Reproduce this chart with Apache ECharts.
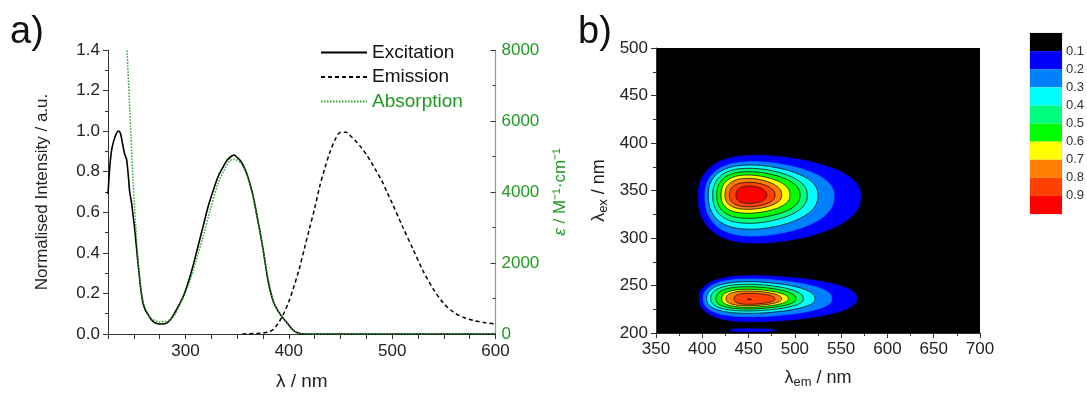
<!DOCTYPE html>
<html><head><meta charset="utf-8">
<script src="https://cdn.jsdelivr.net/npm/echarts@6/dist/echarts.min.js"></script>
<style>html,body{margin:0;padding:0;background:#fff}#c{width:1087px;height:396px}</style>
</head><body><div id="c"></div>
<script>
// ---------- panel a) data ----------
const excitationNm  = [225,227,229,232,235,237,239,241,243,245,246,248,249,251,252.5,254,255.7,257,259,261,264,267,270,274,278,282,285,288,291,295,299,303,307,312,317,322,327,331.5,336,340,344,347,350,353,356,360,365,370,375,380,385,390,395,400,405,410,415,450,500,550,600];
const excitationVal = [0.69,0.84,0.92,0.975,1.0,0.99,0.94,0.89,0.86,0.76,0.70,0.64,0.595,0.51,0.43,0.35,0.27,0.21,0.15,0.12,0.094,0.07,0.056,0.05,0.049,0.055,0.069,0.09,0.118,0.155,0.20,0.26,0.33,0.43,0.53,0.63,0.71,0.775,0.82,0.855,0.875,0.882,0.87,0.855,0.83,0.78,0.69,0.56,0.42,0.26,0.16,0.11,0.075,0.044,0.015,0.003,0,0,0,0,0];
const emissionNm  = [355,360,365,370,375,380,385,390,395,400,405,410,415,420,425,430,435,440,445,450,455,460,465,470,475,480,485,490,495,500,510,520,530,540,550,560,570,580,590,600];
const emissionVal = [0,0.001,0.002,0.003,0.005,0.01,0.023,0.055,0.1,0.16,0.235,0.32,0.42,0.52,0.62,0.73,0.82,0.9,0.96,0.995,0.995,0.975,0.95,0.92,0.885,0.845,0.8,0.755,0.7,0.645,0.53,0.42,0.31,0.22,0.15,0.105,0.08,0.065,0.056,0.049];
const absorptionNm  = [242,243.4,246,249.2,252.5,255.7,258,260.5,264,267,271,275,280,284.7,290,294.4,299,304,310,317,324,331.5,338,343,347,351,355,360,365,370,375,380,385,390,395,400,405,410,420,500,600];
const absorptionEps = [9000,8000,6400,4340,2740,1520,1050,770,560,440,370,345,350,395,560,815,1100,1470,2050,2740,3500,4240,4650,4880,4920,4880,4750,4420,3900,3200,2400,1550,920,620,420,230,80,15,0,0,0];
const seriesNames = ['Excitation','Emission','Absorption'];

// ---------- panel b) data ----------
const contourLevels = [0.1,0.2,0.3,0.4,0.5,0.6,0.7,0.8,0.9];
const bandColors = ['#000000','#0000ff','#0080ff','#00ffff','#00ff80','#00ff00','#ffff00','#ff8000','#ff4000','#ff0000'];
// [level, xLeft, xWidest, xRight, yBottom, yWidest, yTop]  (nm)
const upperPeakContours = [
  [0.1,395.7,462,571.0,294.7,344,387.0],
  [0.2,402.9,458,542.3,302.1,344,380.3],
  [0.3,406.5,455,525.0,309.2,345,376.8],
  [0.4,411.3,453,513.4,315.5,345,373.4],
  [0.5,415.6,452,505.6,320.7,345,369.8],
  [0.6,420.2,451,494.8,326.0,345,366.3],
  [0.7,424.5,451,485.8,330.2,345,362.8],
  [0.8,429.2,452,478.6,332.9,345,358.6],
  [0.9,436.4,452,469.6,336.5,345,354.7]
];
const lowerPeakContours = [
  [0.1,430.0,452,478.0,201.5,203,204.5],
  [0.1,396.8,458,566.8,211.9,236.5,260.3],
  [0.2,401.1,455,539.8,217.2,236,256.8],
  [0.3,404.8,453,521.8,220.7,236,254.0],
  [0.4,409.1,452,509.1,223.2,236,251.3],
  [0.5,414.8,451,501.2,225.3,236,248.7],
  [0.6,421.0,451,492.9,227.1,236,246.0],
  [0.7,425.6,451,485.8,228.7,236,244.2],
  [0.8,434.3,451,478.6,230.2,236,241.8],
  [0.9,449.0,451,453.0,235.0,235.5,236.0]
];

const zip = (xs, ys) => xs.map((x, i) => [x, ys[i]]);
const FONT = 'Liberation Sans';
const GREEN = '#1f9a1f';
const GREEN_LINE = '#5cbf5c';

function contourItem(params, api) {
  const L = api.value(0), xl = api.value(1), xm = api.value(2), xr = api.value(3);
  const yb = api.value(4), ym = api.value(5), yt = api.value(6);
  const pts = [];
  const N = 90;
  for (let k = 0; k < N; k++) {
    const t = 2 * Math.PI * k / N, c = Math.cos(t), s = Math.sin(t);
    const x = c >= 0 ? xm + (xr - xm) * Math.pow(c, 1.25) : xm - (xm - xl) * Math.pow(-c, 0.75);
    const y = s >= 0 ? ym + (yt - ym) * Math.pow(s, 0.85) : ym - (ym - yb) * Math.pow(-s, 0.85);
    pts.push(api.coord([x, y]));
  }
  const idx = Math.round(L * 10);
  return {
    type: 'polygon',
    shape: { points: pts },
    style: { fill: bandColors[idx], stroke: L >= 0.3 ? '#111' : bandColors[idx], lineWidth: 0.8 }
  };
}

const axisTxt = { fontFamily: FONT, fontSize: 17, color: '#222' };
const chart = echarts.init(document.getElementById('c'));
const option = {
  animation: false,
  textStyle: { fontFamily: FONT },
  grid: [
    { left: 108, right: 591.5, top: 50, bottom: 62, containLabel: false, outerBoundsMode: 'none' },
    { left: 656, right: 107, top: 48, bottom: 63, containLabel: false, outerBoundsMode: 'none', show: true, backgroundColor: '#000', borderWidth: 0 },
    { left: 1030, width: 32, top: 33, height: 181, containLabel: false, outerBoundsMode: 'none', show: true, borderColor: '#ddd', borderWidth: 1 }
  ],
  legend: {
    orient: 'vertical', left: 315, top: 38, itemWidth: 46, itemHeight: 12, itemGap: 5.5,
    itemStyle: { opacity: 0 },
    textStyle: { fontFamily: FONT, fontSize: 19, color: '#111', padding: [0, 0, 0, 0] },
    data: [
      { name: 'Excitation' },
      { name: 'Emission' },
      { name: 'Absorption', textStyle: { color: GREEN } }
    ]
  },
  xAxis: [
    { gridIndex: 0, type: 'value', min: 225, max: 600, interval: 25,
      name: 'λ / nm', nameLocation: 'middle', nameGap: 38,
      nameTextStyle: { fontFamily: FONT, fontSize: 19, color: '#222' },
      axisLine: { lineStyle: { color: '#333', width: 1 } },
      axisTick: { length: 5, lineStyle: { color: '#333' } },
      axisLabel: Object.assign({ margin: 9, formatter: v => (v % 100 === 0 ? String(v) : '') }, axisTxt),
      splitLine: { show: false } },
    { gridIndex: 1, type: 'value', min: 350, max: 700, interval: 50,
      name: '{m|λ}{s|em}{m| / nm}', nameLocation: 'middle', nameGap: 36,
      nameTextStyle: { fontFamily: FONT, fontSize: 18, color: '#222',
        rich: { m: { fontSize: 18, fontFamily: FONT, color: '#222', verticalAlign: 'top', lineHeight: 20 },
                s: { fontSize: 13, fontFamily: FONT, color: '#222', verticalAlign: 'bottom', lineHeight: 13, padding: [10, 0, 0, 0] } } },
      axisLine: { lineStyle: { color: '#333', width: 1 } },
      axisTick: { length: 5, lineStyle: { color: '#333' } },
      minorTick: { show: true, splitNumber: 2, length: 3, lineStyle: { color: '#333' } },
      axisLabel: Object.assign({ margin: 8 }, axisTxt),
      splitLine: { show: false } },
    { gridIndex: 2, type: 'category', data: ['c'], show: false }
  ],
  yAxis: [
    { gridIndex: 0, type: 'value', min: 0, max: 1.4, interval: 0.2,
      name: 'Normalised Intensity / a.u.', nameLocation: 'middle', nameGap: 57,
      nameTextStyle: { fontFamily: FONT, fontSize: 17, color: '#222' },
      axisLine: { show: true, lineStyle: { color: '#333', width: 1 } },
      axisTick: { show: true, length: 5, lineStyle: { color: '#333' } },
      minorTick: { show: true, splitNumber: 2, length: 3, lineStyle: { color: '#333' } },
      axisLabel: Object.assign({ margin: 8, formatter: v => v.toFixed(1) }, axisTxt),
      splitLine: { show: false } },
    { gridIndex: 0, type: 'value', position: 'right', min: 0, max: 8000, interval: 2000,
      name: '{i|ε} / M⁻¹·cm⁻¹', nameLocation: 'middle', nameGap: 56,
      nameTextStyle: { fontFamily: FONT, fontSize: 17, color: GREEN,
        rich: { i: { fontStyle: 'italic', fontFamily: FONT, fontSize: 17, color: GREEN } } },
      axisLine: { show: true, lineStyle: { color: GREEN_LINE, width: 1.2 } },
      axisTick: { show: true, inside: true, length: 5, lineStyle: { color: '#333' } },
      minorTick: { show: true, splitNumber: 2, length: 3, lineStyle: { color: '#333' } },
      axisLabel: Object.assign({}, axisTxt, { margin: 6, color: GREEN, formatter: v => String(v) }),
      splitLine: { show: false } },
    { gridIndex: 1, type: 'value', min: 200, max: 500, interval: 50,
      name: '{m|λ}{s|ex}{m| / nm}', nameLocation: 'middle', nameGap: 46,
      nameTextStyle: { fontFamily: FONT, fontSize: 18, color: '#222',
        rich: { m: { fontSize: 18, fontFamily: FONT, color: '#222', verticalAlign: 'top', lineHeight: 20 },
                s: { fontSize: 13, fontFamily: FONT, color: '#222', verticalAlign: 'bottom', lineHeight: 13, padding: [10, 0, 0, 0] } } },
      axisLine: { show: true, lineStyle: { color: '#333', width: 1 } },
      axisTick: { show: true, length: 5, lineStyle: { color: '#333' } },
      minorTick: { show: true, splitNumber: 2, length: 3, lineStyle: { color: '#333' } },
      axisLabel: Object.assign({ margin: 8 }, axisTxt),
      splitLine: { show: false } },
    { gridIndex: 2, type: 'value', min: 0, max: 1, interval: 0.1, inverse: true, position: 'right',
      axisLine: { show: false }, axisTick: { show: false }, splitLine: { show: false },
      axisLabel: { fontFamily: FONT, fontSize: 13, color: '#333', margin: 4,
        formatter: v => (v > 0.05 && v < 0.95 ? v.toFixed(1) : '') } }
  ],
  series: [
    { name: seriesNames[0], type: 'line', xAxisIndex: 0, yAxisIndex: 0, data: zip(excitationNm, excitationVal),
      showSymbol: false, symbol: 'none', smooth: 0.3, lineStyle: { color: '#000', width: 1.6 }, itemStyle: { color: '#000' }, z: 4 },
    { name: seriesNames[1], type: 'line', xAxisIndex: 0, yAxisIndex: 0, data: zip(emissionNm, emissionVal),
      showSymbol: false, symbol: 'none', smooth: 0.3, lineStyle: { color: '#000', width: 1.5, type: [4, 3] }, itemStyle: { color: '#000' }, z: 3 },
    { name: seriesNames[2], type: 'line', xAxisIndex: 0, yAxisIndex: 1, data: zip(absorptionNm, absorptionEps),
      showSymbol: false, symbol: 'none', smooth: 0.3, clip: true, lineStyle: { color: '#2aa62a', width: 1.5, type: [1.5, 1.5] }, itemStyle: { color: '#2aa62a' }, z: 5 },
    { type: 'custom', xAxisIndex: 1, yAxisIndex: 2, renderItem: contourItem, clip: true,
      encode: { x: [1, 2, 3], y: [4, 5, 6] }, data: upperPeakContours },
    { type: 'custom', xAxisIndex: 1, yAxisIndex: 2, renderItem: contourItem, clip: true,
      encode: { x: [1, 2, 3], y: [4, 5, 6] }, data: lowerPeakContours }
  ].concat(bandColors.map((col, i) => ({
    type: 'bar', xAxisIndex: 2, yAxisIndex: 3, stack: 'cb', barWidth: '100%',
    data: [0.1], itemStyle: { color: col }, silent: true
  }))),
  graphic: [
    { type: 'text', left: 10, top: 14, style: { text: 'a)', fontFamily: FONT, fontSize: 38, fill: '#111' } },
    { type: 'text', left: 578, top: 14, style: { text: 'b)', fontFamily: FONT, fontSize: 38, fill: '#111' } }
  ]
};
chart.setOption(option);
</script>
</body></html>
